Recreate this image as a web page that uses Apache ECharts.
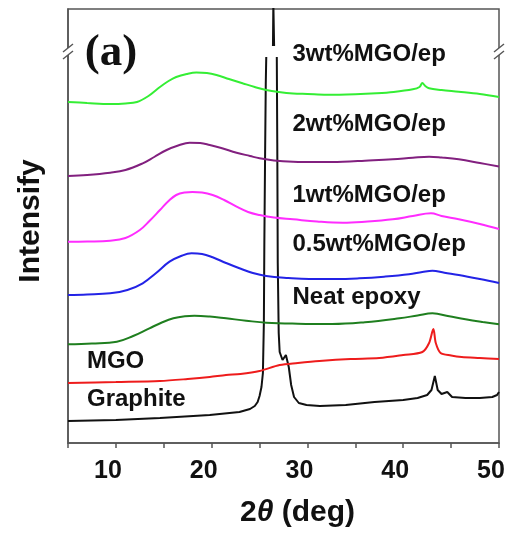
<!DOCTYPE html>
<html>
<head>
<meta charset="utf-8">
<script src="https://cdn.jsdelivr.net/npm/echarts@6/dist/echarts.min.js"></script>
<style>
  html, body { margin: 0; padding: 0; background: #fff; }
  #chart { width: 511px; height: 533px; }
</style>
</head>
<body>
<div id="chart"></div>
<script>
// XRD patterns, 2θ (deg) vs. intensity (a.u., curves offset vertically)
const xTickLabels = [10, 20, 30, 40, 50];

const graphite = [
  [5, 22], [10, 23], [14.6, 25], [19.8, 28], [22.9, 31], [24.0, 34], [24.5, 37],
  [24.8, 41], [25.0, 47], [25.2, 56], [25.35, 70], [25.45, 120], [25.5, 200],
  [25.58, 290], [25.65, 360], [25.7, 386], [26.4, 397], [26.44, 440], [26.48, 440],
  [26.52, 397], [26.8, 386], [26.85, 300], [26.9, 180], [27.0, 110], [27.1, 91],
  [27.4, 83], [27.75, 88], [28.05, 76], [28.3, 58], [28.6, 46], [29.1, 40],
  [29.9, 38], [31.3, 37], [34, 38], [37, 41], [40, 43], [41.5, 45], [42.5, 48],
  [42.95, 53], [43.3, 67], [43.6, 53], [44.0, 49], [44.6, 51], [45.1, 46],
  [46.5, 45], [48, 45], [49.3, 46], [49.8, 48], [50, 51]
];

const mgo = [
  [5, 60], [10, 61], [14.6, 62], [17.5, 64], [19.8, 66], [21.5, 68], [23, 69],
  [25, 72], [27.1, 78], [29, 80], [31.25, 82], [34.5, 84], [37.5, 85], [40, 88],
  [42, 91], [42.7, 100], [43.15, 114], [43.4, 100], [43.9, 90], [45, 87.5],
  [46.1, 86], [48, 85], [50, 84]
];

const neatEpoxy = [
  [5, 98.7], [7.5, 99.5], [10.1, 101.3], [11.8, 107], [13.5, 114.7], [14.8, 120.5],
  [16, 124.7], [17.2, 126.8], [18.2, 127.3], [19.8, 126.5], [21.5, 124.7],
  [23.6, 122.3], [25.7, 120.3], [29, 119.3], [32.6, 119], [36, 120.8],
  [39.6, 124.7], [41.5, 127.5], [43.05, 129.7], [44.8, 126.7], [46.5, 123.7],
  [48.3, 121], [50, 118.7]
];

const ep05 = [
  [5, 148], [7, 148.5], [9.4, 149.7], [11.2, 153], [12.8, 159.7], [14.2, 170],
  [15.6, 181.3], [16.8, 187], [17.9, 189.7], [19, 189], [20.1, 185.7], [21.5, 180],
  [22.9, 174.7], [24.3, 170], [25.7, 167], [28, 165], [30.2, 164], [33, 164],
  [35.4, 164.7], [38, 166.3], [40.6, 168.7], [42, 171], [43.05, 172.3],
  [44.3, 170.2], [45.8, 168], [48, 164], [50, 160]
];

const ep1 = [
  [5, 201.3], [7, 201.5], [9.4, 202.3], [11, 205], [12.5, 213], [13.5, 222],
  [14.6, 233], [15.5, 242], [16.3, 248], [17.2, 250.5], [18, 251], [19, 250.5],
  [20.1, 248], [21.3, 243], [22.6, 236.3], [23.8, 231], [25, 228], [26.5, 225.5],
  [28.5, 223.7], [31, 221.5], [33.7, 220.3], [36, 221.3], [38.9, 223.7], [41, 227],
  [42.9, 229.7], [44, 227], [45.8, 223.7], [48, 219], [50, 214]
];

const ep2 = [
  [5, 267], [7, 268], [9.4, 270.3], [11, 273], [12.8, 279.7], [14, 286],
  [15.3, 293], [16.5, 297.5], [17.7, 300.3], [18.8, 300], [19.8, 298], [21, 295],
  [22.6, 290.3], [24, 287], [25, 284.7], [26.5, 282.5], [28.5, 281.3], [31, 281],
  [33.7, 281.3], [36, 282.3], [38.9, 283.7], [41, 285.3], [42.7, 286.3],
  [44, 285.5], [45.8, 283.7], [48, 280], [50, 276.5]
];

const ep3 = [
  [5, 341], [7, 340], [9.4, 339], [11, 339.5], [12.2, 341], [13.4, 347],
  [14.6, 356], [15.5, 362], [16.3, 366], [17.4, 369], [18.4, 370.5], [19.5, 370],
  [20.5, 368], [21.8, 364], [23.3, 359.5], [24.5, 356], [25.7, 353], [27, 351],
  [28.5, 349.5], [30, 349], [32, 348.3], [35, 348.8], [37.2, 349.7], [39, 351],
  [41, 353.7], [41.7, 356], [42.0, 360], [42.3, 357], [42.7, 354.7], [44, 353],
  [45.8, 351.3], [48, 349], [50, 346]
];

// Curve names placed next to each pattern (anchor in data coordinates: left edge, middle)
const curveLabels = [
  { text: '3wt%MGO/ep', at: [28.44, 389] },
  { text: '2wt%MGO/ep', at: [28.44, 319] },
  { text: '1wt%MGO/ep', at: [28.44, 248] },
  { text: '0.5wt%MGO/ep', at: [28.44, 199] },
  { text: 'Neat epoxy', at: [28.44, 146] },
  { text: 'MGO', at: [6.98, 82] },
  { text: 'Graphite', at: [6.98, 44] }
];

// y-range hidden by the axis break (graphite main peak runs off-scale)
const breakRange = [386, 397];

const AXIS_COLOR = '#555';
const SANS = '"Liberation Sans", Arial, sans-serif';

const chart = echarts.init(document.getElementById('chart'), null, { renderer: 'canvas' });

function lineSeries(name, data, color, smooth) {
  return {
    name, type: 'line', data,
    showSymbol: false, symbol: 'none',
    smooth: smooth,
    clip: true,
    lineStyle: { color, width: 2 },
    itemStyle: { color },
    z: 3
  };
}

chart.setOption({
  animation: false,
  backgroundColor: '#fff',
  grid: {
    left: 68, right: 12, top: 9, bottom: 90,
    outerBoundsMode: 'none',
    containLabel: false,
    show: true, borderColor: AXIS_COLOR, borderWidth: 1.5, backgroundColor: 'transparent'
  },
  xAxis: {
    type: 'value', min: 5, max: 50, interval: 5,
    axisLine: { show: true, lineStyle: { color: AXIS_COLOR, width: 1.5 } },
    axisTick: { show: true, length: 5, inside: false, lineStyle: { color: AXIS_COLOR, width: 1.5 } },
    splitLine: { show: false },
    axisLabel: {
      margin: 16,
      padding: [0, 16, 0, 0],
      fontSize: 25, fontWeight: 'bold', color: '#111', fontFamily: SANS,
      formatter: v => (xTickLabels.indexOf(v) >= 0 ? String(v) : '')
    },
    name: '{n|2}{t|θ}{n| (deg)}',
    nameLocation: 'middle',
    nameGap: 55,
    nameTextStyle: {
      padding: [0, 0, 0, 28],
      rich: {
        n: { fontSize: 30, fontWeight: 'bold', color: '#111', fontFamily: SANS },
        t: { fontSize: 30, fontWeight: 'bold', fontStyle: 'italic', color: '#111', fontFamily: SANS }
      }
    }
  },
  yAxis: {
    type: 'value', min: 0, max: 434,
    axisLine: { show: true, lineStyle: { color: AXIS_COLOR, width: 1.5 } },
    axisTick: { show: false },
    axisLabel: { show: false },
    splitLine: { show: false },
    name: 'Intensify',
    nameLocation: 'middle',
    nameGap: 22,
    nameTextStyle: { fontSize: 30, fontWeight: 'bold', color: '#111', fontFamily: SANS, padding: [0, 0, 0, 10] }
  },
  series: [
    lineSeries('Graphite', graphite, '#111111', false),
    lineSeries('MGO', mgo, '#ee1c1c', 0.3),
    lineSeries('Neat epoxy', neatEpoxy, '#1f7f1f', 0.4),
    lineSeries('0.5wt%MGO/ep', ep05, '#2323e6', 0.4),
    lineSeries('1wt%MGO/ep', ep1, '#ff2cff', 0.4),
    lineSeries('2wt%MGO/ep', ep2, '#82207f', 0.4),
    lineSeries('3wt%MGO/ep', ep3, '#34ee34', 0.35)
  ]
});

// Decorations positioned through the grid's coordinate system
const toPx = p => chart.convertToPixel({ gridIndex: 0 }, p);
const graphics = [];

// gap in the off-scale graphite peak
const gA = toPx([25.5, breakRange[1]]);
const gB = toPx([26.95, breakRange[0]]);
graphics.push({
  type: 'rect', z: 10,
  shape: { x: gA[0], y: gA[1], width: gB[0] - gA[0], height: gB[1] - gA[1] },
  style: { fill: '#fff' }
});

// "//" break marks on the left and right axes
const breakMid = (breakRange[0] + breakRange[1]) / 2;
[5, 50].forEach(xv => {
  const c = toPx([xv, breakMid]);
  graphics.push({
    type: 'rect', z: 11,
    shape: { x: c[0] - 3, y: c[1] - 3.5, width: 6, height: 7 },
    style: { fill: '#fff' }
  });
  [-3.5, 3.5].forEach(off => {
    graphics.push({
      type: 'line', z: 12,
      shape: { x1: c[0] - 5, y1: c[1] + off + 4, x2: c[0] + 5, y2: c[1] + off - 4 },
      style: { stroke: AXIS_COLOR, lineWidth: 1.5 }
    });
  });
});

// curve names
curveLabels.forEach(l => {
  const p = toPx(l.at);
  graphics.push({
    type: 'text', z: 20, x: p[0], y: p[1],
    style: {
      text: l.text, fill: '#111',
      font: 'bold 24px ' + SANS,
      align: 'left', verticalAlign: 'middle'
    }
  });
});

// panel tag
const tag = toPx([6.75, 390]);
graphics.push({
  type: 'text', z: 20, x: tag[0], y: tag[1],
  style: {
    text: '(a)', fill: '#111',
    font: 'bold 45px "Liberation Serif", "Times New Roman", serif',
    align: 'left', verticalAlign: 'middle'
  }
});

chart.setOption({ graphic: graphics });
</script>
</body>
</html>
